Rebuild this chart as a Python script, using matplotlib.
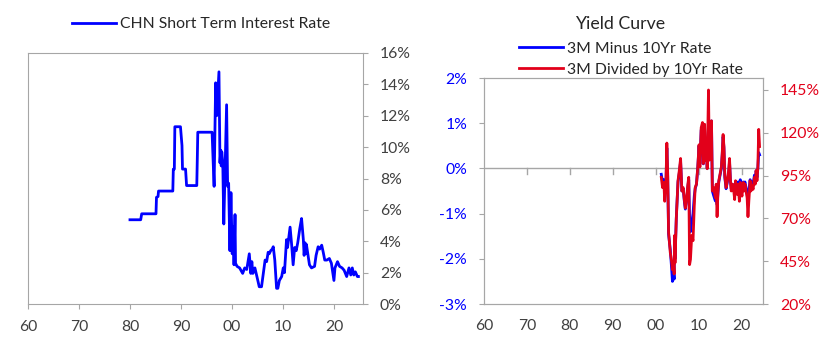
import numpy as np
import matplotlib.pyplot as plt

plt.rcParams['font.family'] = ['Lato', 'DejaVu Sans']

# CHN short term interest rate (%), decimal year
rate_years = [1980.0, 1982.1, 1982.3, 1985.1, 1985.2, 1985.5, 1985.6, 1988.4, 1988.5, 1988.7,
              1988.8, 1989.9, 1990.2, 1990.3, 1990.9, 1991.1, 1993.1, 1993.2, 1993.3, 1996.1,
              1996.3, 1996.5, 1996.8, 1997.0, 1997.45, 1997.65, 1997.8, 1997.9, 1998.0, 1998.2,
              1998.4, 1998.95, 1999.15, 1999.35, 1999.6, 1999.8, 2000.05, 2000.25, 2000.4, 2000.6,
              2000.7, 2001.0, 2001.5, 2002.1, 2002.5, 2002.9, 2003.4, 2003.7, 2003.9, 2004.1,
              2004.5, 2005.0, 2005.35, 2005.8, 2006.15, 2006.5, 2006.8, 2007.1, 2007.3, 2007.6,
              2007.9, 2008.1, 2008.4, 2008.75, 2009.0, 2009.3, 2009.75, 2010.06, 2010.3, 2010.7,
              2010.9, 2011.4, 2011.7, 2012.0, 2012.3, 2012.6, 2012.9, 2013.3, 2013.65, 2014.0,
              2014.15, 2014.35, 2014.45, 2014.6, 2015.2, 2015.6, 2016.2, 2016.5, 2016.9, 2017.2,
              2017.6, 2017.9, 2018.2, 2018.6, 2019.1, 2019.5, 2020.0, 2020.2, 2020.7, 2021.1,
              2021.6, 2022.0, 2022.5, 2022.95, 2023.3, 2023.6, 2023.9, 2024.2, 2024.6, 2024.8]
rate_values = [5.37, 5.37, 5.75, 5.75, 6.8, 6.85, 7.2, 7.2, 8.6, 8.6,
               11.3, 11.3, 10.1, 8.6, 8.6, 7.55, 7.55, 9.2, 10.95, 10.95,
               9.2, 7.5, 14.1, 12.0, 14.8, 9.0, 9.8, 8.8, 9.7, 9.0,
               5.1, 12.7, 7.5, 7.7, 3.4, 7.1, 3.2, 4.9, 2.5, 5.7,
               2.6, 2.4, 2.3, 1.95, 2.3, 2.2, 3.2, 1.95, 2.7, 1.95,
               2.3, 1.6, 1.1, 1.1, 1.95, 2.8, 2.7, 3.3, 3.2, 3.4,
               3.5, 3.65, 2.8, 1.0, 1.0, 1.5, 1.75, 2.3, 2.0, 4.1,
               3.6, 4.9, 3.8, 2.5, 3.6, 3.4, 3.9, 4.8, 5.45, 4.1,
               3.1, 3.9, 3.2, 3.8, 2.5, 2.3, 2.4, 3.1, 3.65, 3.5,
               3.75, 3.3, 2.8, 2.8, 2.9, 2.6, 1.5, 2.3, 2.7, 2.4,
               2.3, 2.15, 1.75, 2.3, 1.85, 2.3, 1.85, 2.05, 1.75, 1.75]

# yield curve: 3M minus 10Yr (%, left axis) and 3M / 10Yr (%, right axis)
yc_years = [2001.3, 2001.6, 2001.9, 2002.1, 2002.4, 2002.6, 2002.8, 2003.0, 2003.4, 2003.7,
            2003.9, 2004.1, 2004.3, 2004.4, 2004.5, 2004.8, 2005.2, 2005.5, 2005.8, 2006.1,
            2006.4, 2006.7, 2006.9, 2007.2, 2007.5, 2007.7, 2007.9, 2008.1, 2008.4, 2008.7,
            2009.0, 2009.2, 2009.5, 2009.8, 2010.1, 2010.3, 2010.6, 2010.9, 2011.1, 2011.4,
            2011.6, 2011.8, 2012.0, 2012.3, 2012.5, 2012.8, 2013.0, 2013.2, 2013.5, 2013.9,
            2014.1, 2014.3, 2014.5, 2014.7, 2015.0, 2015.3, 2015.5, 2015.7, 2015.9, 2016.1,
            2016.4, 2016.7, 2017.0, 2017.2, 2017.4, 2017.6, 2017.9, 2018.1, 2018.4, 2018.6,
            2018.8, 2019.0, 2019.2, 2019.5, 2019.7, 2019.9, 2020.1, 2020.4, 2020.6, 2020.8,
            2021.0, 2021.3, 2021.5, 2021.7, 2022.0, 2022.2, 2022.4, 2022.7, 2023.0, 2023.2,
            2023.4, 2023.6, 2023.8, 2024.0, 2024.2]
spread = [-0.13, -0.3, -0.25, -0.5, -0.3, 0.45, -0.2, -1.45, -1.8, -2.2,
          -2.5, -2.2, -2.45, -1.5, -2.0, -1.1, -0.3, -0.1, 0.15, -0.5,
          -0.45, -0.75, -0.9, -0.7, -0.4, -0.25, -1.1, -1.4, -1.2, -1.0,
          -0.6, -0.45, -0.35, 0.0, 0.5, 0.1, 0.85, 0.9, 0.1, 0.85,
          0.2, 0.45, 0.0, 0.95, 0.2, 0.7, 1.05, -0.5, -0.6, -0.72,
          -0.4, -0.8, -0.55, -0.3, -0.15, 0.0, 0.3, 0.7, 0.45, -0.2,
          -0.45, -0.3, -0.1, 0.15, -0.25, -0.45, -0.35, -0.4, -0.5, -0.3,
          -0.35, -0.45, -0.3, -0.5, -0.25, -0.4, -0.45, -0.3, -0.35, -0.3,
          -0.4, -0.55, -0.75, -0.5, -0.25, -0.35, -0.3, -0.35, -0.15, -0.25,
          -0.05, -0.2, 0.0, 0.35, 0.3]
ratio = [94, 88, 91, 80, 92, 114, 96, 62, 50, 45,
         40, 45, 37.5, 60, 44, 70, 92, 98, 105, 86,
         88, 80, 76, 82, 90, 94, 43, 46, 60, 57,
         78, 88, 90, 100, 113, 100, 123, 126, 102, 125,
         104, 112, 99, 145, 104, 118, 127, 86, 88, 82,
         90, 71, 85, 92, 96, 100, 108, 119, 112, 95,
         88, 92, 98, 105, 93, 86, 90, 88, 81, 92,
         88, 84, 90, 80, 91, 86, 83, 91, 86, 90,
         87, 82, 71, 80, 92, 86, 89, 87, 94, 90,
         98, 92, 100, 122, 112]

year_ticks = [1960, 1970, 1980, 1990, 2000, 2010, 2020]
year_labels = ['60', '70', '80', '90', '00', '10', '20']

BLUE = '#0000FF'
RED = '#E2001A'
GRAY = '#A6A6A6'
TXT = '#404040'
FS = 11.3

fig = plt.figure(figsize=(8.31, 3.55), dpi=100)

# ---------- left chart ----------
ax1 = fig.add_axes([28/831, 1-304/355, (363-28)/831, (304-53)/355])
ax1.plot(rate_years, rate_values, color=BLUE, lw=2, label='CHN Short Term Interest Rate')
ax1.set_xlim(1960, 2025.7)
ax1.set_ylim(0, 16)
ax1.set_xticks(year_ticks)
ax1.set_xticklabels(year_labels)
ax1.set_yticks(np.arange(0, 17, 2))
ax1.set_yticklabels([f'{v}%' for v in range(0, 17, 2)])
ax1.yaxis.tick_right()
ax1.tick_params(axis='x', direction='out', length=3.6, color=GRAY, labelsize=FS, labelcolor=TXT, pad=8)
ax1.tick_params(axis='y', direction='out', length=3.6, color=GRAY, labelsize=FS, labelcolor=TXT, pad=8.5)
for s in ax1.spines.values():
    s.set_color(GRAY)
ax1.legend(loc='center left', bbox_to_anchor=(64/831, 1-24/355), bbox_transform=fig.transFigure,
           frameon=False, fontsize=FS, handlelength=2.8, handletextpad=0.25, borderpad=0,
           labelcolor='#262626')

# ---------- right chart ----------
ax2 = fig.add_axes([484/831, 1-304/355, (763-484)/831, (304-78)/355])
ax3 = ax2.twinx()
l1, = ax2.plot(yc_years, spread, color=BLUE, lw=2, label='3M Minus 10Yr Rate')
l2, = ax3.plot(yc_years, ratio, color=RED, lw=2, label='3M Divided by 10Yr Rate')
ax2.set_xlim(1960, 2025)
ax2.set_ylim(-3, 2)
ax3.set_ylim(20, 152)
ax2.axhline(0, color=GRAY, lw=1, zorder=0)
for yr in year_ticks[1:]:
    ax2.plot([yr, yr], [0, -0.12], color=GRAY, lw=1, zorder=0)
ax2.set_xticks(year_ticks)
ax2.set_xticklabels(year_labels)
ax2.set_yticks(range(-3, 3))
ax2.set_yticklabels([f'{v}%' for v in range(-3, 3)])
ax3.set_yticks(range(20, 150, 25))
ax3.set_yticklabels([f'{v}%' for v in range(20, 150, 25)])
ax2.tick_params(axis='x', length=0, labelsize=FS, labelcolor=TXT, pad=11)
ax2.tick_params(axis='y', direction='out', length=3.6, color=GRAY, labelsize=FS, labelcolor=BLUE, pad=8.5)
ax3.tick_params(axis='y', direction='out', length=3.6, color=GRAY, labelsize=FS, labelcolor=RED, pad=8.5)
for a in (ax2, ax3):
    for s in a.spines.values():
        s.set_color(GRAY)

fig.text(620/831, 1-24/355, 'Yield Curve', ha='center', va='center', fontsize=12.8, color='#262626')
fig.legend(handles=[l1, l2], loc='upper left', bbox_to_anchor=(511/831, 1-34/355),
           frameon=False, fontsize=FS, handlelength=2.8, handletextpad=0.25, borderpad=0,
           labelspacing=0.45, labelcolor='#262626')

fig.savefig('out.png', dpi=100)
